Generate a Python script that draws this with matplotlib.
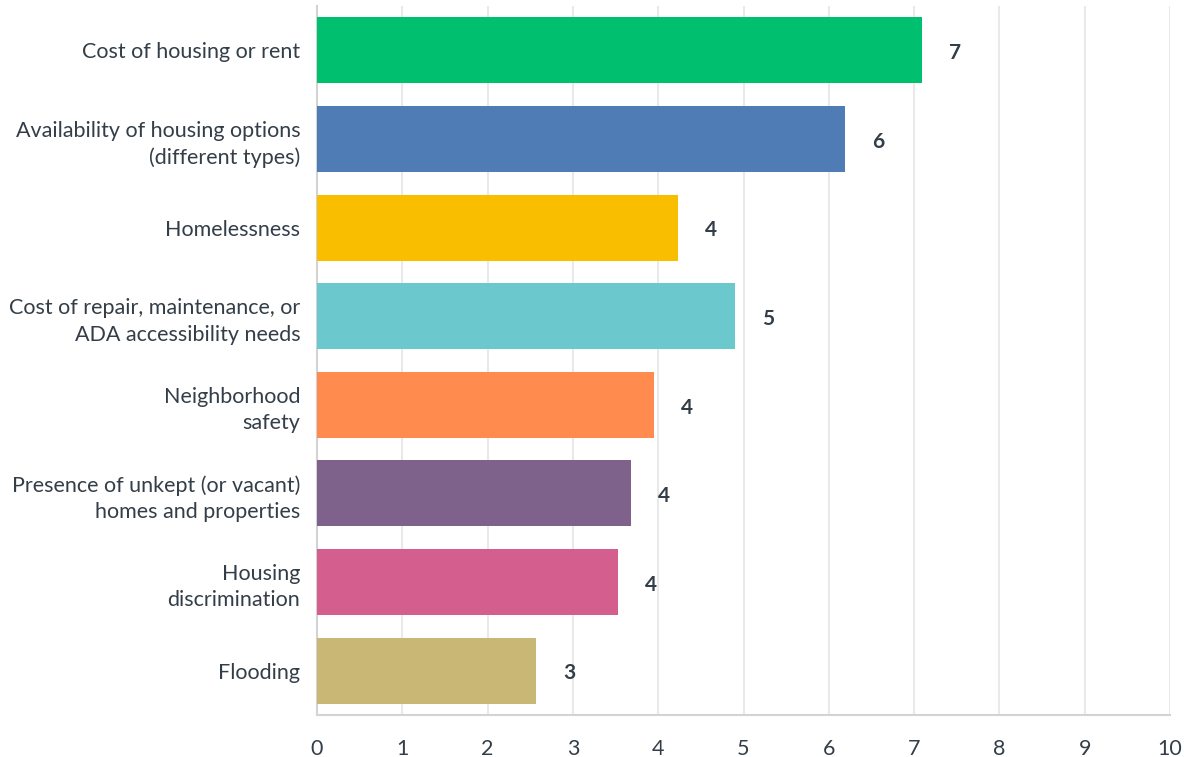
import matplotlib.pyplot as plt

plt.rcParams['font.family'] = ['Lato', 'DejaVu Sans']

categories = [
    'Cost of housing or rent',
    'Availability of housing options\n(different types)',
    'Homelessness',
    'Cost of repair, maintenance, or\nADA accessibility needs',
    'Neighborhood\nsafety',
    'Presence of unkept (or vacant)\nhomes and properties',
    'Housing\ndiscrimination',
    'Flooding',
]
scores = [7.09, 6.19, 4.23, 4.90, 3.95, 3.68, 3.53, 2.57]
colors = ['#00BF6F', '#507CB6', '#F9BE00', '#6BC8CD',
          '#FF8B4F', '#7F628B', '#D45F8E', '#C9B776']
xticks = list(range(0, 11))

text_color = '#333e48'

fig = plt.figure(figsize=(11.84, 7.57), dpi=100)
ax = fig.add_axes([317 / 1184, 42 / 757, 853 / 1184, 709 / 757])

ypos = list(range(len(categories)))
ax.barh(ypos, scores, height=0.745, color=colors, zorder=3)

for y, v in zip(ypos, scores):
    ax.annotate(f'{round(v)}', (v, y), xytext=(24, -2), textcoords='offset points',
                ha='center', va='center', fontsize=15, fontweight='bold',
                color=text_color, zorder=4)

ax.set_xlim(0, 10)
ax.set_ylim(len(categories) - 0.5, -0.5)
ax.set_xticks(xticks)
ax.set_xticklabels([str(t) for t in xticks])
ax.set_yticks(ypos)
ax.set_yticklabels(categories, linespacing=1.4)

ax.grid(axis='x', color='#e9e9e9', linewidth=1.5, zorder=0)
ax.grid(axis='y', visible=False)
for side in ['top', 'right']:
    ax.spines[side].set_visible(False)
for side in ['left', 'bottom']:
    ax.spines[side].set_color('#d3d3d3')
    ax.spines[side].set_linewidth(1.5)

ax.tick_params(axis='x', length=0, pad=17, labelsize=15.5, labelcolor=text_color)
ax.tick_params(axis='y', length=0, pad=12, labelsize=15.5, labelcolor=text_color)

fig.savefig('out.png', dpi=100)
